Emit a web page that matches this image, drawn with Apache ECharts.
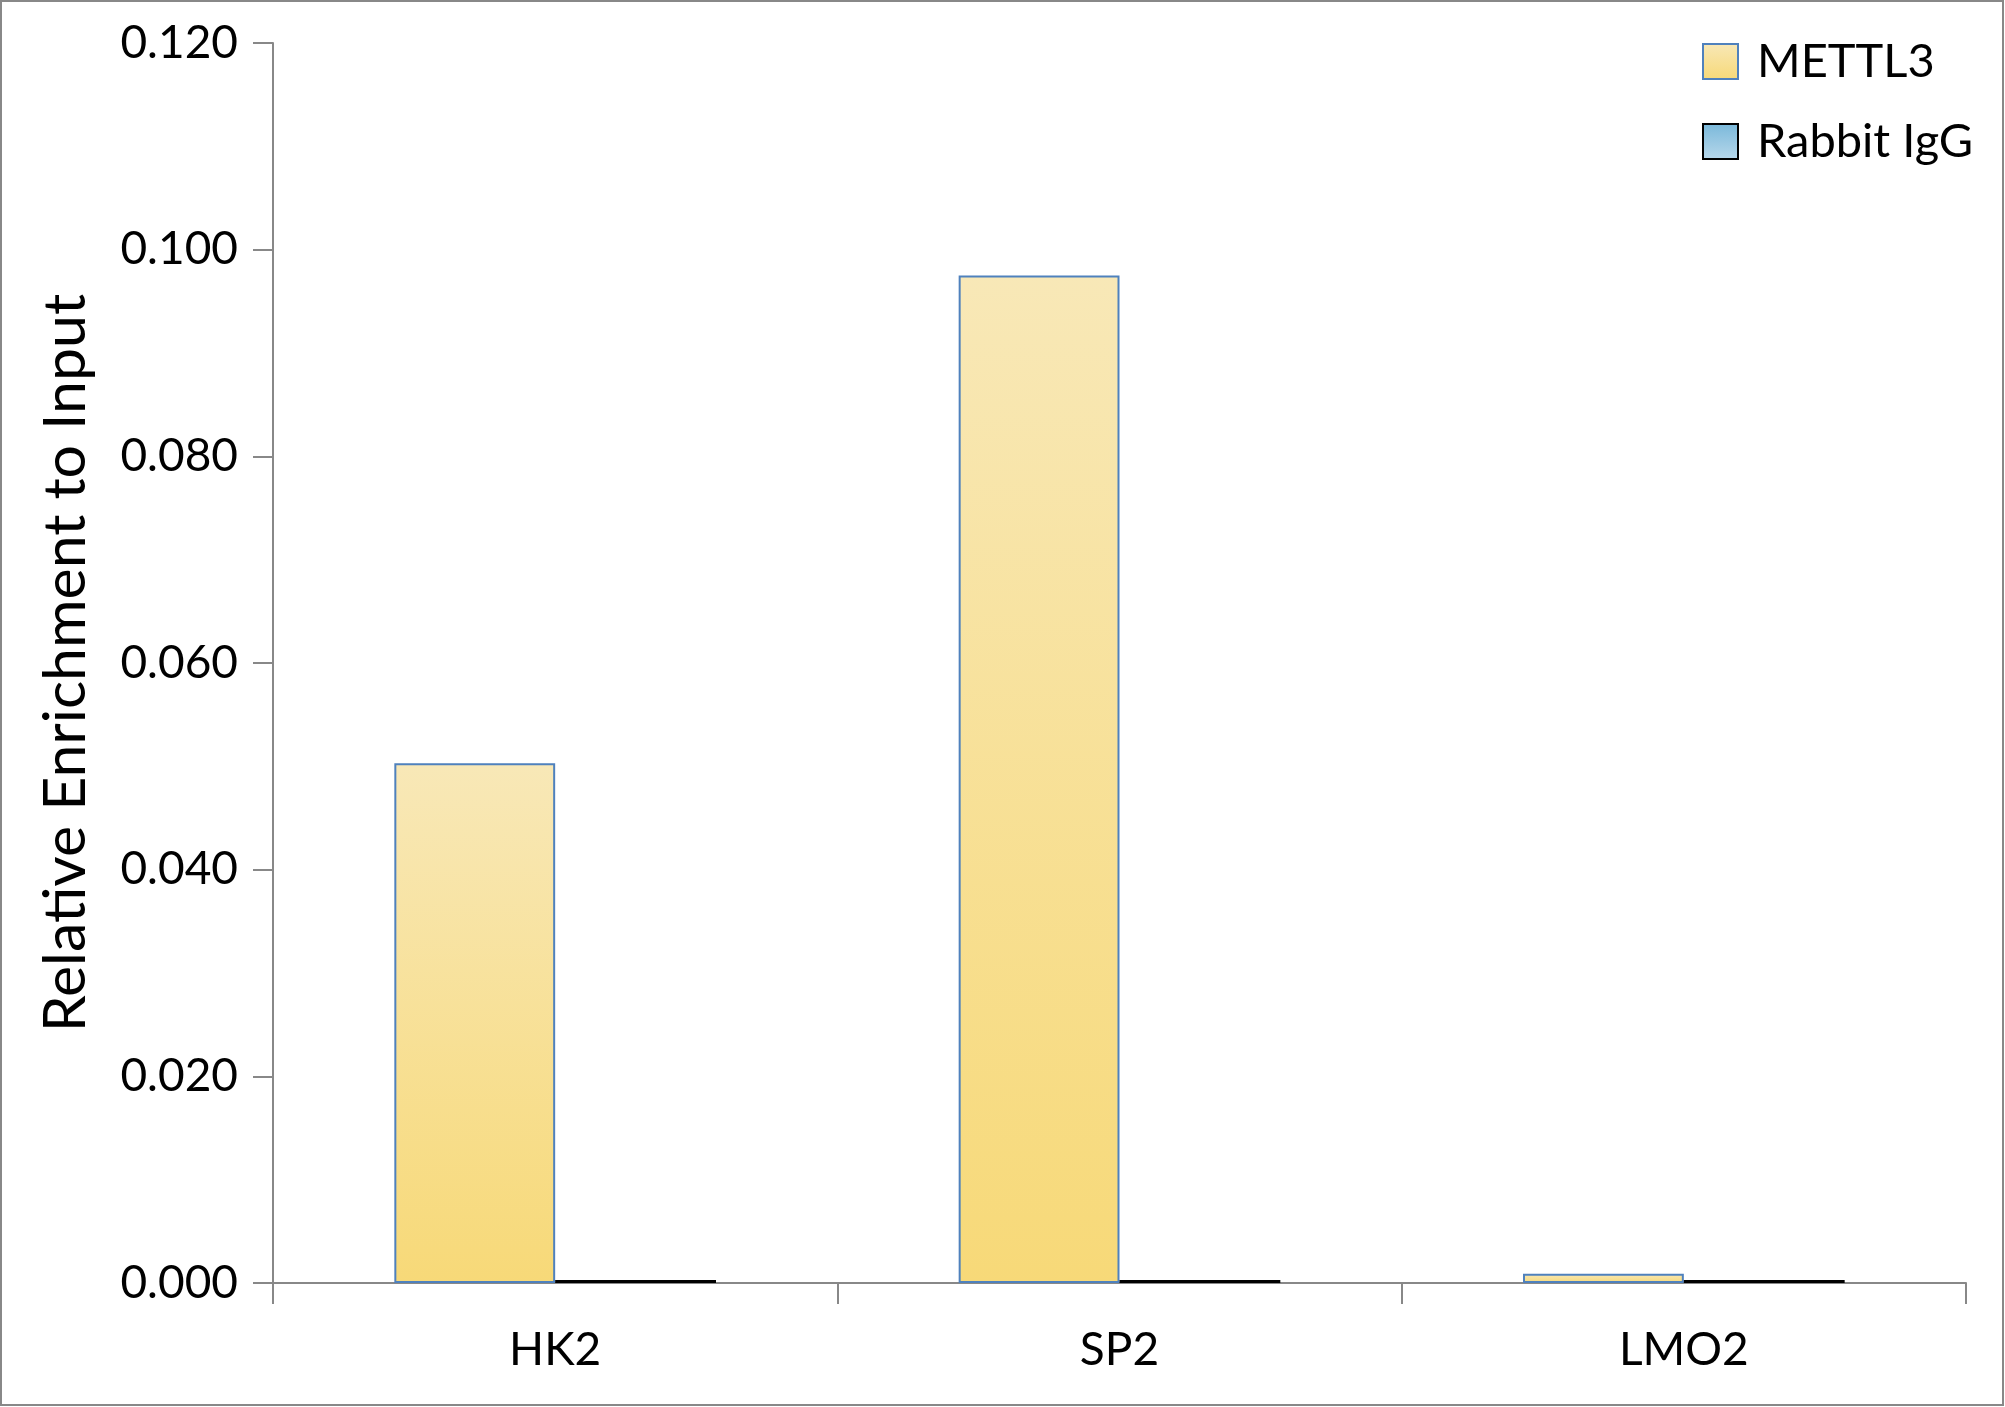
<!DOCTYPE html>
<html>
<head>
<meta charset="utf-8">
<script src="https://cdn.jsdelivr.net/npm/echarts@6/dist/echarts.min.js"></script>
<style>
html,body{margin:0;padding:0;background:#fff;}
#chart{width:2005px;height:1407px;}
</style>
</head>
<body>
<div id="chart"></div>
<script>
const categories = ['HK2', 'SP2', 'LMO2'];
const mettl3 = [0.0503, 0.0975, 0.0009];
const rabbitIgG = [0.0003, 0.0003, 0.0003];
const seriesNames = ['METTL3', 'Rabbit IgG'];
const yTicks = { min: 0, max: 0.12, interval: 0.02 };

const FONT = 'Lato';
const chart = echarts.init(document.getElementById('chart'), null, { renderer: 'canvas' });

const option = {
  backgroundColor: '#ffffff',
  animation: false,
  graphic: [{
    type: 'rect',
    shape: { x: 1, y: 1, width: 2002, height: 1404 },
    style: { fill: 'none', stroke: '#888888', lineWidth: 2 },
    silent: true
  }],
  legend: {
    left: 1702,
    top: 38,
    padding: 0,
    orient: 'vertical',
    itemWidth: 35,
    itemHeight: 35,
    itemGap: 33,
    icon: 'rect',
    textStyle: { fontFamily: FONT, fontSize: 47, color: '#000', padding: [0, 0, 0, 14] },
    data: seriesNames
  },
  grid: { left: 273, right: 39, top: 43, bottom: 124, containLabel: false },
  xAxis: {
    type: 'category',
    data: categories,
    axisLine: { lineStyle: { color: '#888888', width: 2 } },
    axisTick: { show: true, length: 21, lineStyle: { color: '#888888', width: 2 } },
    axisLabel: { fontFamily: FONT, fontSize: 46, color: '#000', margin: 44 },
    splitLine: { show: false }
  },
  yAxis: {
    type: 'value',
    min: yTicks.min,
    max: yTicks.max,
    interval: yTicks.interval,
    name: 'Relative Enrichment to Input',
    nameLocation: 'middle',
    nameGap: 178,
    nameTextStyle: { fontFamily: FONT, fontSize: 59, color: '#000' },
    axisLine: { show: true, lineStyle: { color: '#888888', width: 2 } },
    axisTick: { show: true, inside: false, length: 20, lineStyle: { color: '#888888', width: 2 } },
    axisLabel: {
      fontFamily: FONT, fontSize: 46, color: '#000', margin: 35,
      formatter: v => v.toFixed(3)
    },
    splitLine: { show: false }
  },
  series: [
    {
      name: seriesNames[0],
      type: 'bar',
      data: mettl3,
      barGap: '0%',
      barCategoryGap: '43%',
      itemStyle: {
        color: new echarts.graphic.LinearGradient(0, 0, 0, 1, [
          { offset: 0, color: '#F8E8B7' },
          { offset: 1, color: '#F7D978' }
        ]),
        borderColor: '#4F81BD',
        borderWidth: 2
      }
    },
    {
      name: seriesNames[1],
      type: 'bar',
      data: rabbitIgG,
      barGap: '0%',
      barCategoryGap: '43%',
      itemStyle: {
        color: new echarts.graphic.LinearGradient(0, 0, 0, 1, [
          { offset: 0, color: '#79B8DA' },
          { offset: 1, color: '#B8D8EB' }
        ]),
        borderColor: '#000000',
        borderWidth: 2
      }
    }
  ]
};
chart.setOption(option);
</script>
</body>
</html>
